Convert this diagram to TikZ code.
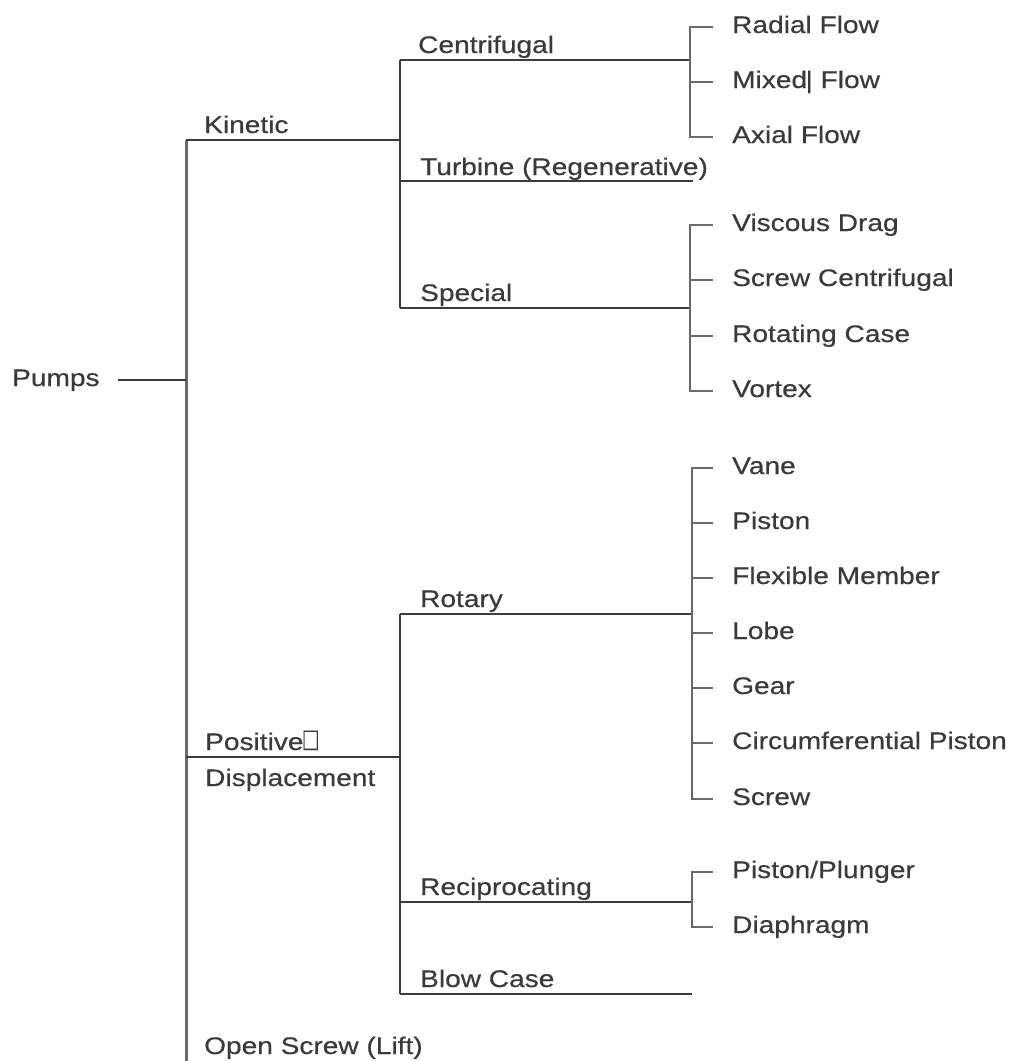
\documentclass[tikz,border=0pt]{standalone}
\usepackage{fontspec}
\setmainfont{Liberation Sans}[FakeStretch=1.17,FakeBold=0.4]
\definecolor{txt}{HTML}{3A3A3A}
\definecolor{lncol}{HTML}{3C3C3C}
\definecolor{brkcol}{HTML}{6A6A6A}
\begin{document}
\begin{tikzpicture}[x=1pt,y=-1pt,
  lbl/.style={anchor=base west, inner sep=0pt, text=txt, font=\fontsize{24}{28}\selectfont},
  ln/.style={draw=lncol, line width=2pt},
  trunkline/.style={draw=brkcol, line width=3pt},
  brk/.style={draw=brkcol, line width=2.6pt, line join=miter}]
\useasboundingbox (0,0) rectangle (1013,1061);
\fill[white] (0,0) rectangle (1013,1061);

% ---------- root ----------
\node[lbl] (pumps) at (12,386) {Pumps};
\coordinate (pumpsL) at (118,380);
\coordinate (trunkM) at (186,380);
\coordinate (trunkT) at (186,140);
\coordinate (trunkB) at (186,1061);
\draw[trunkline] (trunkT) -- (trunkB);
\draw[ln] (pumpsL) -- (trunkM);

% ---------- level 1 ----------
\coordinate (kinR) at (400,140);
\draw[ln] (trunkT) -- (kinR);
\node[lbl] (kinetic) at (204,133) {Kinetic};

\coordinate (posL) at (186,757);
\coordinate (posR) at (400,757);
\draw[ln] (posL) -- (posR);
\node[lbl] (positive) at (205,750) {Positive\scalebox{0.85}[1.35]{□}};
\node[lbl] (displ) at (205,786) {Displacement};

\node[lbl] (openscrew) at (204,1054) {Open Screw (Lift)};

% ---------- kinetic branch ----------
\coordinate (kT) at (400,60);
\coordinate (kB) at (400,308);
\draw[ln] (kT) -- (kB);

\coordinate (cenR) at (690,60);
\draw[ln] (kT) -- (cenR);
\node[lbl] (centrifugal) at (418,53) {Centrifugal};

\coordinate (turL) at (400,181);
\coordinate (turR) at (693,181);
\draw[ln] (turL) -- (turR);
\node[lbl] (turbine) at (420,175) {Turbine (Regenerative)};

\coordinate (speR) at (690,308);
\draw[ln] (kB) -- (speR);
\node[lbl] (special) at (420,301) {Special};

% centrifugal leaves
\coordinate (rad-b) at (690,27);  \coordinate (rad-e) at (713,27);
\coordinate (mix-b) at (690,82);  \coordinate (mix-e) at (713,82);
\coordinate (ax-b)  at (690,137); \coordinate (ax-e)  at (713,137);
\draw[brk] (rad-e) -- (rad-b) -- (ax-b) -- (ax-e);
\draw[brk] (mix-b) -- (mix-e);
\node[lbl] (radial) at (732,33) {Radial Flow};
\node[lbl] (mixed)  at (732,88) {Mixed\kern-1.5pt| Flow};
\node[lbl] (axial)  at (732,143) {Axial Flow};

% special leaves
\coordinate (vis-b) at (690,225); \coordinate (vis-e) at (713,225);
\coordinate (scc-b) at (690,280); \coordinate (scc-e) at (713,280);
\coordinate (rot-b) at (690,336); \coordinate (rot-e) at (713,336);
\coordinate (vor-b) at (690,391); \coordinate (vor-e) at (713,391);
\draw[brk] (vis-e) -- (vis-b) -- (vor-b) -- (vor-e);
\draw[brk] (scc-b) -- (scc-e);
\draw[brk] (rot-b) -- (rot-e);
\node[lbl] (viscous) at (732,231) {Viscous Drag};
\node[lbl] (screwc)  at (732,286) {Screw Centrifugal};
\node[lbl] (rotcase) at (732,342) {Rotating Case};
\node[lbl] (vortex)  at (732,397) {Vortex};

% ---------- positive displacement branch ----------
\coordinate (pT) at (400,614);
\coordinate (pB) at (400,994);
\draw[ln] (pT) -- (pB);

\coordinate (rotaryR) at (692,614);
\draw[ln] (pT) -- (rotaryR);
\node[lbl] (rotary) at (420,607) {Rotary};

\coordinate (recL) at (400,902);
\coordinate (recR) at (692,902);
\draw[ln] (recL) -- (recR);
\node[lbl] (recip) at (420,895) {Reciprocating};

\coordinate (blowR) at (692,994);
\draw[ln] (pB) -- (blowR);
\node[lbl] (blow) at (420,987) {Blow Case};

% rotary leaves
\coordinate (van-b) at (692,468); \coordinate (van-e) at (713,468);
\coordinate (pis-b) at (692,523); \coordinate (pis-e) at (713,523);
\coordinate (fle-b) at (692,578); \coordinate (fle-e) at (713,578);
\coordinate (lob-b) at (692,633); \coordinate (lob-e) at (713,633);
\coordinate (gea-b) at (692,688); \coordinate (gea-e) at (713,688);
\coordinate (cir-b) at (692,743); \coordinate (cir-e) at (713,743);
\coordinate (scr-b) at (692,799); \coordinate (scr-e) at (713,799);
\draw[brk] (van-e) -- (van-b) -- (scr-b) -- (scr-e);
\draw[brk] (pis-b) -- (pis-e);
\draw[brk] (fle-b) -- (fle-e);
\draw[brk] (lob-b) -- (lob-e);
\draw[brk] (gea-b) -- (gea-e);
\draw[brk] (cir-b) -- (cir-e);
\node[lbl] (vane)    at (732,474) {Vane};
\node[lbl] (piston)  at (732,529) {Piston};
\node[lbl] (flex)    at (732,584) {Flexible Member};
\node[lbl] (lobe)    at (732,639) {Lobe};
\node[lbl] (gear)    at (732,694) {Gear};
\node[lbl] (circ)    at (732,749) {Circumferential Piston};
\node[lbl] (screw)   at (732,805) {Screw};

% reciprocating leaves
\coordinate (plu-b) at (692,872); \coordinate (plu-e) at (713,872);
\coordinate (dia-b) at (692,927); \coordinate (dia-e) at (713,927);
\draw[brk] (plu-e) -- (plu-b) -- (dia-b) -- (dia-e);
\node[lbl] (plunger) at (732,878) {Piston/Plunger};
\node[lbl] (diaph)   at (732,933) {Diaphragm};
\end{tikzpicture}
\end{document}
